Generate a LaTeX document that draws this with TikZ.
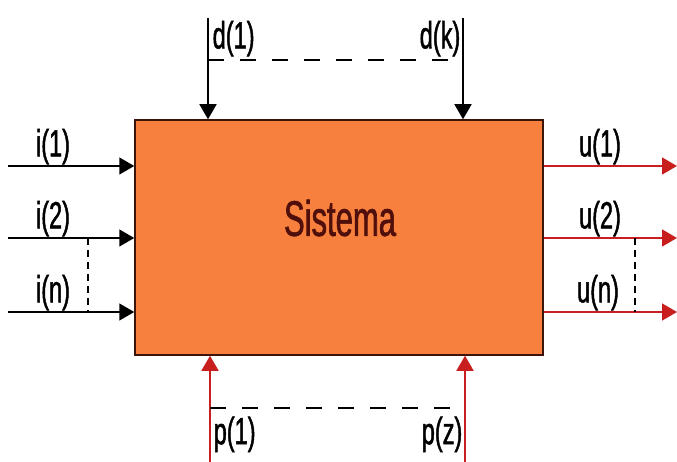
\documentclass[tikz,border=0pt]{standalone}
\usepackage{fontspec}
\setmainfont[FakeStretch=0.62,FakeBold=1.2]{Liberation Sans}
\usetikzlibrary{arrows.meta}
\definecolor{boxfill}{RGB}{247,128,62}
\definecolor{boxline}{RGB}{60,20,10}
\definecolor{outred}{RGB}{200,30,30}
\definecolor{textbrown}{RGB}{80,15,10}
\tikzset{
  blackarrow/.style={line width=1.5pt, black, -{Triangle[width=17pt,length=15pt]}},
  redarrow/.style={line width=1.5pt, outred, -{Triangle[width=17pt,length=15pt]}},
  dashv/.style={line width=1.2pt, black, dash pattern=on 7pt off 5pt},
  dashh/.style={line width=1.2pt, black, dash pattern=on 16pt off 16pt},
  lbl/.style={font=\fontsize{38}{40}\selectfont, inner sep=0.5pt},
}
\begin{document}
\begin{tikzpicture}[x=1pt,y=-1pt]
\useasboundingbox (0,0) rectangle (677,462);
\node[draw=boxline, fill=boxfill, line width=1.5pt, minimum width=408pt, minimum height=235pt, inner sep=0pt] (sys) at (339,237.5) {};
\node[font=\fontsize{50}{54}\selectfont, text=textbrown] (st) at (340,218) {Sistema};
% inputs
\coordinate (i1s) at (8,166);
\coordinate (i2s) at (8,238);
\coordinate (ins) at (8,312);
\draw[blackarrow] (i1s) -- (sys.west |- i1s);
\draw[blackarrow] (i2s) -- (sys.west |- i2s);
\draw[blackarrow] (ins) -- (sys.west |- ins);
\node[lbl, anchor=south] (li1) at (53,165) {i(1)};
\node[lbl, anchor=south] (li2) at (53,237) {i(2)};
\node[lbl, anchor=south] (lin) at (53,311) {i(n)};
\coordinate (ida) at (88,238);
\coordinate (idb) at (88,312);
\draw[dashv] (ida) -- (idb);
% outputs
\coordinate (u1e) at (677,166);
\coordinate (u2e) at (677,238);
\coordinate (une) at (677,312);
\draw[redarrow] (sys.east |- u1e) -- (u1e);
\draw[redarrow] (sys.east |- u2e) -- (u2e);
\draw[redarrow] (sys.east |- une) -- (une);
\node[lbl, anchor=south] (lu1) at (600,165) {u(1)};
\node[lbl, anchor=south] (lu2) at (600,237) {u(2)};
\node[lbl, anchor=south] (lun) at (598,311) {u(n)};
\coordinate (uda) at (635,238);
\coordinate (udb) at (635,312);
\draw[dashv] (uda) -- (udb);
% disturbances top
\coordinate (d1s) at (208,18);
\coordinate (dks) at (463,18);
\draw[blackarrow] (d1s) -- (sys.north -| d1s);
\draw[blackarrow] (dks) -- (sys.north -| dks);
\node[lbl, anchor=south west] (ld1) at (212,57) {d(1)};
\node[lbl, anchor=south east] (ldk) at (461,57) {d(k)};
\coordinate (dda) at (208,60);
\coordinate (ddb) at (463,60);
\draw[dashh] (dda) -- (ddb);
% bottom
\coordinate (p1s) at (210,462);
\coordinate (pzs) at (465,462);
\draw[redarrow] (p1s) -- (sys.south -| p1s);
\draw[redarrow] (pzs) -- (sys.south -| pzs);
\node[lbl, anchor=north west] (lp1) at (213,416) {p(1)};
\node[lbl, anchor=north east] (lpz) at (463,416) {p(z)};
\coordinate (pda) at (210,408);
\coordinate (pdb) at (465,408);
\draw[dashh] (pda) -- (pdb);
\end{tikzpicture}
\end{document}
